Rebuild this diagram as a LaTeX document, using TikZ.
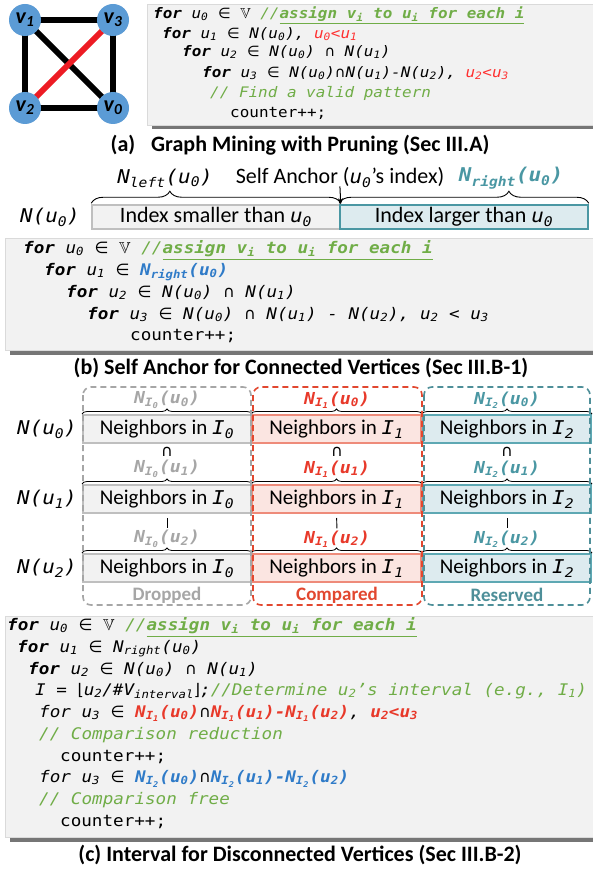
\documentclass[tikz,border=0pt]{standalone}
\usepackage{fontspec}
\usepackage{amssymb}
\setmainfont{Carlito}
\newfontfamily\cmono{DejaVu Sans Mono}[FakeStretch=1.1,ItalicFont={DejaVu Sans Mono Oblique},BoldFont={DejaVu Sans Mono Bold},BoldItalicFont={DejaVu Sans Mono Bold Oblique}]
\newfontfamily\csym{DejaVu Sans}
\usetikzlibrary{decorations.pathreplacing,arrows.meta,backgrounds}

\definecolor{cgreen}{HTML}{70AD47}
\definecolor{credA}{HTML}{FF3030}
\definecolor{cred}{HTML}{E8392A}
\definecolor{cblue}{HTML}{2F7BC8}
\definecolor{cteal}{HTML}{4A97A3}
\definecolor{nodeblue}{HTML}{5B9BD5}
\definecolor{gred}{HTML}{ED1C24}
\definecolor{boxbg}{HTML}{F2F2F2}
\definecolor{boxedge}{HTML}{DADADA}
\definecolor{shadowc}{HTML}{767676}
\definecolor{grayd}{HTML}{A6A6A6}
\definecolor{grayrow}{HTML}{BFBFBF}
\definecolor{redd}{HTML}{E2472F}
\definecolor{redfill}{HTML}{FBE5E1}
\definecolor{redrow}{HTML}{EE8B7A}
\definecolor{teald}{HTML}{4E8F99}
\definecolor{tealfill}{HTML}{DDEBEF}
\definecolor{tealrow}{HTML}{5EA8B3}

\newcommand\kfor{\textbf{for}}
\newcommand\uu[1]{u\textsubscript{#1}}
\newcommand\NU[1]{N(u\textsubscript{#1})}
\newcommand\NI[2]{N\textsubscript{I\textsubscript{#1}}(u\textsubscript{#2})}
\newcommand\isin{{\csym\upshape\mdseries ∈}}
\newcommand\icap{{\csym\upshape\mdseries ∩}}
\newcommand\VV{$\mathbb{V}$}
\newcommand\cmtassign{{\color{cgreen}//\underline{\textbf{assign v\textsubscript{i} to u\textsubscript{i} for each i}}}}
\newcommand\mi[1]{{\cmono\itshape\fontsize{19}{22}\selectfont #1}}

\tikzset{
  codeA/.style={anchor=mid west, inner sep=0pt, font=\cmono\fontsize{14.5}{17}\selectfont\itshape},
  codeB/.style={anchor=mid west, inner sep=0pt, font=\cmono\fontsize{16}{18}\selectfont\itshape},
  ttl/.style={inner sep=0pt, font=\fontsize{22}{26}\selectfont\bfseries},
  codebox/.style={fill=boxbg, draw=boxedge, line width=0.5pt},
  shadowbox/.style={fill=shadowc},
  gnode/.style={circle, fill=nodeblue, minimum size=32pt, inner sep=0pt, font=\fontsize{22}{24}\selectfont\bfseries\itshape},
  gedge/.style={line width=6pt, draw=black},
  hdr/.style={inner sep=0pt, font=\fontsize{22}{26}\selectfont},
  hdrm/.style={inner sep=0pt, font=\cmono\fontsize{19}{22}\selectfont\itshape},
  hdrmb/.style={inner sep=0pt, font=\cmono\fontsize{19}{22}\selectfont\itshape\bfseries},
  idxbox/.style={minimum width=248pt, minimum height=24pt, inner sep=0pt, line width=1.5pt, font=\fontsize{22}{26}\selectfont},
  bbrace/.style={decorate, line width=0.9pt},
  rowbox/.style={minimum width=168pt, minimum height=28pt, inner sep=0pt, line width=2pt, font=\fontsize{21}{24}\selectfont},
  collbl/.style={inner sep=0pt, font=\cmono\fontsize{16.5}{18}\selectfont\itshape\bfseries},
  dashbox/.style={dash pattern=on 6pt off 4pt, line width=1.6pt, rounded corners=8pt},
  stat/.style={inner sep=0pt, font=\fontsize{19}{22}\selectfont\bfseries},
  capn/.style={inner sep=0pt, font=\csym\fontsize{16}{18}\selectfont},
  vbar/.style={line width=0.9pt, shorten <=4pt, shorten >=2pt},
}

\begin{document}
\begin{tikzpicture}[x=1pt,y=-1pt]
\useasboundingbox (0,0) rectangle (592,869);
\begin{pgfonlayer}{background}
\fill[white] (0,0) rectangle (592,869);
\end{pgfonlayer}

% ---------- (a) graph ----------
\node[gnode] (v1) at (25,20) {v\textsubscript{1}};
\node[gnode] (v3) at (113,20) {v\textsubscript{3}};
\node[gnode] (v2) at (25,108) {v\textsubscript{2}};
\node[gnode] (v0) at (113,108) {v\textsubscript{0}};
\begin{pgfonlayer}{background}
\draw[gedge] (v1.center) -- (v3.center) -- (v0.center) -- (v2.center) -- cycle;
\draw[gedge] (v1.center) -- (v0.center);
\draw[gedge, draw=gred] (v2.center) -- (v3.center);
\end{pgfonlayer}

% ---------- (a) code ----------
\fill[shadowbox] (152,9) rectangle (597,129);
\filldraw[codebox] (147,4) rectangle (597,125);
\node[codeA] (a1) at (153,16) {\kfor{} \uu0 \isin{} \VV{} \cmtassign};
\node[codeA] (a2) at (162,36) {\kfor{} \uu1 \isin{} \NU0, {\color{credA}\uu0<\uu1}};
\node[codeA] (a3) at (182,54) {\kfor{} \uu2 \isin{} \NU0 \icap{} \NU1};
\node[codeA] (a4) at (202,75) {\kfor{} \uu3 \isin{} \NU0\icap\NU1-\NU2, {\color{credA}\uu2<\uu3}};
\node[codeA] (a5) at (210,95) {{\color{cgreen}// Find a valid pattern}};
\node[codeA] (a6) at (230,115) {\upshape counter++;};
\node[ttl] (ta) at (300,145) {(a)\hspace{0.5em} Graph Mining with Pruning (Sec III.A)};

% ---------- (b) header ----------
\node[hdrm] (nleft) at (165,178) {N\textsubscript{left}(\uu0)};
\node[hdr] (sanchor) at (340,178) {Self Anchor (\mi{\uu0}’s index)};
\node[hdrmb, text=cteal] (nright) at (511,178) {N\textsubscript{right}(\uu0)};
\node[hdrm] (nub) at (50,217) {N(\uu0)};
\node[idxbox, fill=boxbg, draw=grayrow] (idxL) at (216,217) {Index smaller than \mi{\uu0}};
\node[idxbox, fill=tealfill, draw=cteal] (idxR) at (464,217) {Index larger than \mi{\uu0}};
\draw[bbrace, decoration={brace, amplitude=12pt, aspect=0.315, raise=1pt}] (idxL.north west) -- (idxL.north east);
\draw[bbrace, decoration={brace, amplitude=12pt, aspect=0.68, raise=1pt}] (idxR.north west) -- (idxR.north east);
\draw[line width=1pt, -{Stealth[length=6pt,width=5pt]}, shorten <=-2pt] (sanchor.south) -- (idxL.north east);

% ---------- (b) code ----------
\fill[shadowbox] (10,243) rectangle (597,355);
\filldraw[codebox] (5,238) rectangle (597,350);
\node[codeB] (b1) at (23,251) {\kfor{} \uu0 \isin{} \VV{} \cmtassign};
\node[codeB] (b2) at (44,273) {\kfor{} \uu1 \isin{} {\color{cblue}\bfseries N\textsubscript{right}(\uu0)}};
\node[codeB] (b3) at (66,295) {\kfor{} \uu2 \isin{} \NU0 \icap{} \NU1};
\node[codeB] (b4) at (87,317) {\kfor{} \uu3 \isin{} \NU0 \icap{} \NU1 - \NU2, \uu2 < \uu3};
\node[codeB] (b5) at (130,338) {\upshape counter++;};
\node[ttl] (tb) at (301,368) {(b) Self Anchor for Connected Vertices (Sec III.B-1)};

% ---------- (c) interval columns ----------
\node[hdrm] (nc0) at (47,429) {N(\uu0)};
\node[hdrm] (nc1) at (47,499) {N(\uu1)};
\node[hdrm] (nc2) at (47,568) {N(\uu2)};

% gray column
\node[rowbox, fill=boxbg, draw=grayrow] (g1) at (167,429) {Neighbors in \mi{I\textsubscript{0}}};
\node[rowbox, fill=boxbg, draw=grayrow] (g2) at (167,499) {Neighbors in \mi{I\textsubscript{0}}};
\node[rowbox, fill=boxbg, draw=grayrow] (g3) at (167,568) {Neighbors in \mi{I\textsubscript{0}}};
\node[collbl, text=grayd] (g1l) at (167,400) {\NI00};
\node[collbl, text=grayd] (g2l) at (167,469) {\NI01};
\node[collbl, text=grayd] (g3l) at (167,539) {\NI02};
\node[capn] (g12) at (167,452) {∩};
\node[stat, text=grayd] (gs) at (167,595) {Dropped};
% red column
\node[rowbox, minimum width=169pt, fill=redfill, draw=redrow] (r1) at (336.5,429) {Neighbors in \mi{I\textsubscript{1}}};
\node[rowbox, minimum width=169pt, fill=redfill, draw=redrow] (r2) at (336.5,499) {Neighbors in \mi{I\textsubscript{1}}};
\node[rowbox, minimum width=169pt, fill=redfill, draw=redrow] (r3) at (336.5,568) {Neighbors in \mi{I\textsubscript{1}}};
\node[collbl, text=cred] (r1l) at (337,400) {\NI10};
\node[collbl, text=cred] (r2l) at (337,469) {\NI11};
\node[collbl, text=cred] (r3l) at (337,539) {\NI12};
\node[capn] (r12) at (337,452) {∩};
\node[stat, text=redd] (rs) at (337,595) {Compared};
% teal column
\node[rowbox, fill=tealfill, draw=tealrow] (t1) at (507,429) {Neighbors in \mi{I\textsubscript{2}}};
\node[rowbox, fill=tealfill, draw=tealrow] (t2) at (507,499) {Neighbors in \mi{I\textsubscript{2}}};
\node[rowbox, fill=tealfill, draw=tealrow] (t3) at (507,568) {Neighbors in \mi{I\textsubscript{2}}};
\node[collbl, text=cteal] (t1l) at (507,400) {\NI20};
\node[collbl, text=cteal] (t2l) at (507,469) {\NI21};
\node[collbl, text=cteal] (t3l) at (507,539) {\NI22};
\node[capn] (t12) at (507,452) {∩};
\node[stat, text=teald] (ts) at (507,595) {Reserved};

\foreach \r in {g1,g2,g3,r1,r2,r3,t1,t2,t3}{
  \draw[bbrace, line width=0.8pt, decoration={brace, amplitude=5pt}] (\r.north west) -- (\r.north east);
}
\draw[vbar] (g2.south) -- (g3l.north);
\draw[vbar] (r2.south) -- (r3l.north);
\draw[vbar] (t2.south) -- (t3l.north);

\draw[dashbox, draw=grayd] (83,387) rectangle (251,605);
\draw[dashbox, draw=redd] (253,387) rectangle (422,605);
\draw[dashbox, draw=teald] (424,387) rectangle (590,605);

% ---------- (c) code ----------
\fill[shadowbox] (10,621) rectangle (597,842);
\filldraw[codebox] (5,616) rectangle (597,837);
\node[codeB] (c1) at (7,628) {\kfor{} \uu0 \isin{} \VV{} \cmtassign};
\node[codeB] (c2) at (17,650) {\kfor{} \uu1 \isin{} N\textsubscript{right}(\uu0)};
\node[codeB] (c3) at (28,672) {\kfor{} \uu2 \isin{} \NU0 \icap{} \NU1};
\node[codeB] (c4) at (35,693) {I = {\csym\upshape ⌊}\uu2/\#V\textsubscript{interval}{\csym\upshape ⌋};{\color{cgreen}//Determine \uu2’s interval (e.g., I\textsubscript{1})}};
\node[codeB] (c5) at (39,715) {for \uu3 \isin{} {\color{cred}\bfseries\NI10}\icap{\color{cred}\bfseries\NI11-\NI12}, {\color{cred}\bfseries\uu2<\uu3}};
\node[codeB] (c6) at (39,737) {{\color{cgreen}// Comparison reduction}};
\node[codeB] (c7) at (60,759) {\upshape counter++;};
\node[codeB] (c8) at (39,780) {for \uu3 \isin{} {\color{cblue}\bfseries\NI20}\icap{\color{cblue}\bfseries\NI21-\NI22}};
\node[codeB] (c9) at (39,802) {{\color{cgreen}// Comparison free}};
\node[codeB] (c10) at (60,824) {\upshape counter++;};
\node[ttl] (tc) at (300,855) {(c) Interval for Disconnected Vertices (Sec III.B-2)};
\end{tikzpicture}
\end{document}
